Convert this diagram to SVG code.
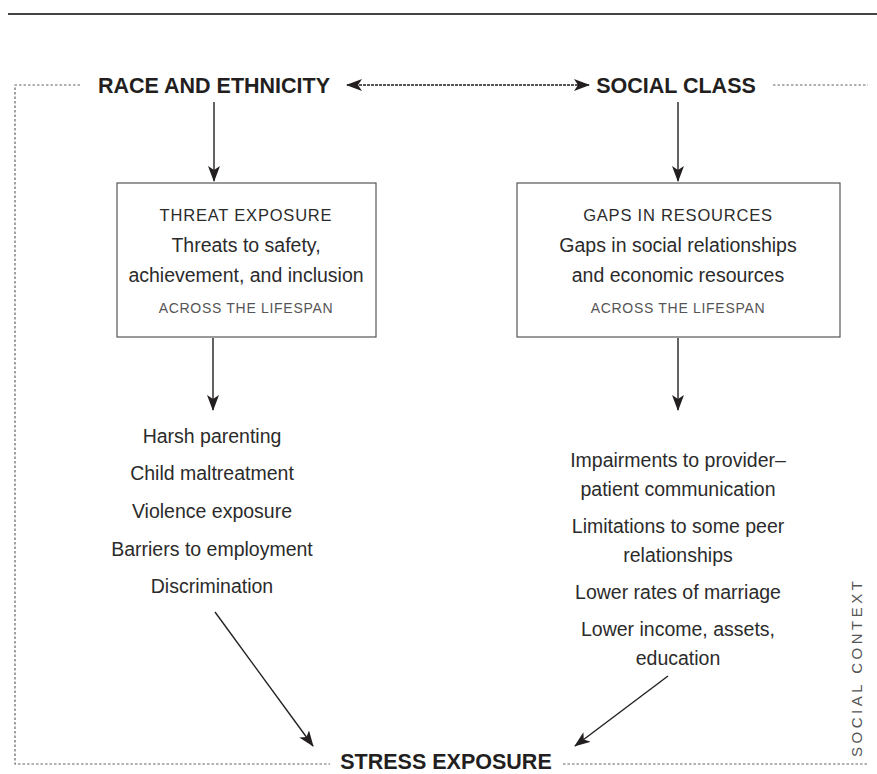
<svg xmlns="http://www.w3.org/2000/svg" width="877" height="774" viewBox="0 0 877 774">
  <style>
    .head { font-family: "Liberation Sans", Arial, sans-serif; font-weight: bold; font-size: 21.5px; fill: #231f20; text-anchor: middle; }
    .title { font-family: "Liberation Sans", Arial, sans-serif; font-size: 16.5px; letter-spacing: 0.8px; fill: #2b2b2b; text-anchor: middle; }
    .body { font-family: "Liberation Sans", Arial, sans-serif; font-size: 19.5px; fill: #2b2b2b; text-anchor: middle; }
    .span { font-family: "Liberation Sans", Arial, sans-serif; font-size: 14px; letter-spacing: 0.7px; fill: #555; text-anchor: middle; }
    .side { font-family: "Liberation Sans", Arial, sans-serif; font-size: 15px; letter-spacing: 3.5px; fill: #555; }
    .box { fill: #fff; stroke: #555; stroke-width: 1.2; }
    .frame { fill: none; stroke: #666; stroke-width: 1.2; stroke-dasharray: 2.5 2; }
    .arrow { fill: none; stroke: #231f20; stroke-width: 1.4; }
    .link { fill: none; stroke: #231f20; stroke-width: 1.4; stroke-dasharray: 3 1; }
  </style>
  <defs>
    <marker id="head" viewBox="0 0 16 12" refX="15" refY="6" markerWidth="16" markerHeight="12" markerUnits="userSpaceOnUse" orient="auto-start-reverse">
      <path d="M0,0 L16,6 L0,12 L4,6 z" fill="#231f20"/>
    </marker>
  </defs>

  <!-- page rule -->
  <line x1="8" y1="14" x2="877" y2="14" stroke="#444" stroke-width="2"/>

  <!-- social context frame -->
  <g id="frame">
    <polyline class="frame" points="80,85 15,85 15,764 330,764"/>
    <line class="frame" x1="563" y1="764" x2="868" y2="764"/>
    <line class="frame" x1="773" y1="85" x2="868" y2="85"/>
    <text class="side" transform="translate(862,757) rotate(-90)">SOCIAL CONTEXT</text>
  </g>

  <g id="race">
    <text class="head" x="214" y="93">RACE AND ETHNICITY</text>
  </g>
  <g id="class">
    <text class="head" x="676" y="93">SOCIAL CLASS</text>
  </g>

  <g id="threat">
    <rect class="box" x="117" y="183" width="259" height="154"/>
    <text class="title" x="246" y="221">THREAT EXPOSURE</text>
    <text class="body" x="246" y="252">Threats to safety,</text>
    <text class="body" x="246" y="282">achievement, and inclusion</text>
    <text class="span" x="246" y="313">ACROSS THE LIFESPAN</text>
  </g>

  <g id="gaps">
    <rect class="box" x="517" y="183" width="323" height="154"/>
    <text class="title" x="678" y="221">GAPS IN RESOURCES</text>
    <text class="body" x="678" y="252">Gaps in social relationships</text>
    <text class="body" x="678" y="282">and economic resources</text>
    <text class="span" x="678" y="313">ACROSS THE LIFESPAN</text>
  </g>

  <g id="threat-examples">
    <text class="body" x="212" y="443">Harsh parenting</text>
    <text class="body" x="212" y="480">Child maltreatment</text>
    <text class="body" x="212" y="518">Violence exposure</text>
    <text class="body" x="212" y="556">Barriers to employment</text>
    <text class="body" x="212" y="593">Discrimination</text>
  </g>

  <g id="gap-examples">
    <text class="body" x="678" y="467">Impairments to provider–</text>
    <text class="body" x="678" y="496">patient communication</text>
    <text class="body" x="678" y="533">Limitations to some peer</text>
    <text class="body" x="678" y="562">relationships</text>
    <text class="body" x="678" y="599">Lower rates of marriage</text>
    <text class="body" x="678" y="636">Lower income, assets,</text>
    <text class="body" x="678" y="665">education</text>
  </g>

  <g id="stress">
    <text class="head" x="446" y="769">STRESS EXPOSURE</text>
  </g>

  <g id="connectors">
    <line class="link" x1="347" y1="85" x2="589" y2="85" marker-start="url(#head)" marker-end="url(#head)"/>
    <line class="arrow" x1="214" y1="102" x2="214" y2="181" marker-end="url(#head)"/>
    <line class="arrow" x1="678" y1="102" x2="678" y2="181" marker-end="url(#head)"/>
    <line class="arrow" x1="213" y1="338" x2="213" y2="410" marker-end="url(#head)"/>
    <line class="arrow" x1="678" y1="338" x2="678" y2="410" marker-end="url(#head)"/>
    <line class="arrow" x1="215" y1="612" x2="313" y2="746" marker-end="url(#head)"/>
    <line class="arrow" x1="668" y1="676" x2="575" y2="746" marker-end="url(#head)"/>
  </g>
</svg>
